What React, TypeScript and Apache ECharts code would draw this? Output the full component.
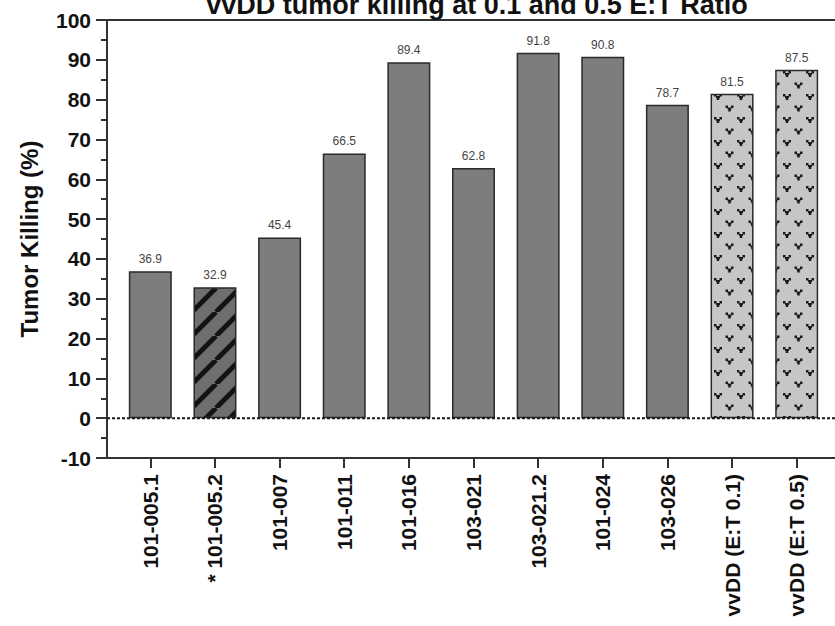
import React, { useEffect, useRef } from "react";
import * as echarts from "echarts";

const titleText = "vvDD tumor killing at 0.1 and 0.5 E:T Ratio";
const yAxisName = "Tumor Killing (%)";
const categories = [
  "101-005.1",
  "* 101-005.2",
  "101-007",
  "101-011",
  "101-016",
  "103-021",
  "103-021.2",
  "101-024",
  "103-026",
  "vvDD (E:T 0.1)",
  "vvDD (E:T 0.5)",
];
const values = [36.9, 32.9, 45.4, 66.5, 89.4, 62.8, 91.8, 90.8, 78.7, 81.5, 87.5];
const fillKinds = ["solid", "hatch", "solid", "solid", "solid", "solid", "solid", "solid", "solid", "dots", "dots"];
const yMin = -10;
const yMax = 100;
const yInterval = 10;
const zeroLine = [
  [0, 0],
  [1, 0],
];

const FONT = 'Arial, "Liberation Sans", sans-serif';

function makeHatch() {
  const s = 24;
  const c = document.createElement("canvas");
  c.width = s;
  c.height = s;
  const g = c.getContext("2d")!;
  g.fillStyle = "#6f6f6f";
  g.fillRect(0, 0, s, s);
  g.strokeStyle = "#141414";
  g.lineWidth = 5;
  for (const x0 of [-s, 0, s]) {
    g.beginPath();
    g.moveTo(x0, s);
    g.lineTo(x0 + s, 0);
    g.stroke();
  }
  return { image: c, repeat: "repeat", imageWidth: s, imageHeight: s };
}

function makeDots() {
  const s = 23;
  const c = document.createElement("canvas");
  c.width = s;
  c.height = s;
  const g = c.getContext("2d")!;
  g.fillStyle = "#c6c6c6";
  g.fillRect(0, 0, s, s);
  g.fillStyle = "#1a1a1a";
  const drawV = (x: number, y: number) => {
    g.fillRect(x, y, 2.5, 2.5);
    g.fillRect(x + 5.5, y, 2.5, 2.5);
    g.fillRect(x + 2, y + 2, 4, 2);
    g.fillRect(x + 2.75, y + 3.5, 2.5, 2.5);
  };
  drawV(1, 2);
  drawV(12.5, 13.5);
  return { image: c, repeat: "repeat", imageWidth: s, imageHeight: s };
}

export default function App() {
  const ref = useRef<HTMLDivElement>(null);
  useEffect(() => {
    if (!ref.current) return;
    const chart = echarts.init(ref.current, undefined, { renderer: "svg" });
    const hatch = makeHatch();
    const dots = makeDots();
    const fillFor = (k: string) => (k === "hatch" ? hatch : k === "dots" ? dots : "#7d7d7d");
    const axisColor = "#333";
    const option: any = {
      animation: false,
      backgroundColor: "#fff",
      title: {
        text: titleText,
        left: 472,
        top: -14,
        textAlign: "center",
        textStyle: { fontSize: 27, fontWeight: "bold", color: "#111", fontFamily: FONT },
      },
      grid: [
        { left: 107, right: 0, top: 20, bottom: 168 },
        { left: 118, right: 6, top: 20, bottom: 168 },
      ],
      xAxis: [
        {
          gridIndex: 0,
          type: "value",
          min: 0,
          max: 1,
          position: "bottom",
          axisLine: { show: true, onZero: false, lineStyle: { color: axisColor, width: 2 } },
          axisTick: { show: false },
          axisLabel: { show: false },
          splitLine: { show: false },
        },
        {
          gridIndex: 0,
          type: "value",
          min: 0,
          max: 1,
          position: "top",
          axisLine: { show: true, onZero: false, lineStyle: { color: axisColor, width: 2 } },
          axisTick: { show: false },
          axisLabel: { show: false },
          splitLine: { show: false },
        },
        {
          gridIndex: 1,
          type: "category",
          data: categories,
          position: "bottom",
          axisLine: { show: false, onZero: false },
          axisTick: { show: true, alignWithLabel: true, length: 10, lineStyle: { color: axisColor, width: 2 } },
          axisLabel: {
            rotate: 90,
            margin: 16,
            interval: 0,
            fontSize: 21,
            fontWeight: "bold",
            color: "#111",
            fontFamily: FONT,
          },
          splitLine: { show: false },
        },
      ],
      yAxis: [
        {
          gridIndex: 0,
          type: "value",
          min: yMin,
          max: yMax,
          interval: yInterval,
          name: yAxisName,
          nameLocation: "middle",
          nameGap: 66,
          nameTextStyle: { fontSize: 24, fontWeight: "bold", color: "#111", fontFamily: FONT },
          axisLine: { show: true, onZero: false, lineStyle: { color: axisColor, width: 2 } },
          axisTick: { show: true, length: 11, lineStyle: { color: axisColor, width: 2 } },
          minorTick: { show: true, splitNumber: 2, length: 6, lineStyle: { color: axisColor, width: 2 } },
          axisLabel: { fontSize: 21, fontWeight: "bold", color: "#111", margin: 16, fontFamily: FONT },
          splitLine: { show: false },
        },
        {
          gridIndex: 1,
          type: "value",
          min: yMin,
          max: yMax,
          interval: yInterval,
          show: false,
          splitLine: { show: false },
        },
      ],
      series: [
        {
          type: "bar",
          xAxisIndex: 2,
          yAxisIndex: 1,
          barWidth: 43,
          data: values.map((v, i) => ({ value: v, itemStyle: { color: fillFor(fillKinds[i]) } })),
          itemStyle: { borderColor: "#2a2a2a", borderWidth: 1.5 },
          label: {
            show: true,
            position: "top",
            distance: 6,
            fontSize: 12,
            color: "#444",
            fontFamily: FONT,
            formatter: (p: any) => Number(p.value).toFixed(1),
          },
          z: 2,
        },
        {
          type: "line",
          xAxisIndex: 0,
          yAxisIndex: 0,
          data: zeroLine,
          symbol: "none",
          lineStyle: { type: [3, 2], color: "#1a1a1a", width: 2 },
          z: 5,
          silent: true,
        },
      ],
    };
    chart.setOption(option);
    return () => chart.dispose();
  }, []);
  return (
    <div
      ref={ref}
      style={{ position: "fixed", left: 0, top: 0, width: 835, height: 626, background: "#fff" }}
    />
  );
}
